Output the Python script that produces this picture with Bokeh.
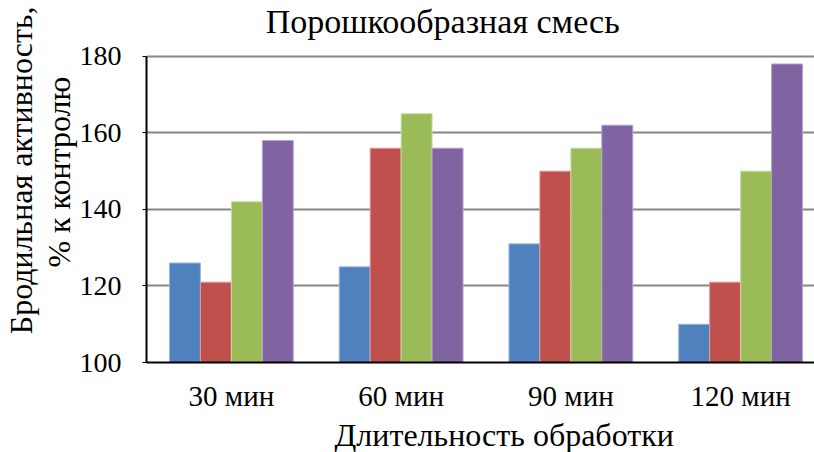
from bokeh.embed import file_html
from bokeh.models import ColumnDataSource, FixedTicker, Label, Range1d, Title
from bokeh.plotting import figure
from bokeh.resources import INLINE

# Fermentation activity of the powdered mix, % of control
durations = ["30 мин", "60 мин", "90 мин", "120 мин"]
series_1 = [126, 125, 131, 110]
series_2 = [121, 156, 150, 121]
series_3 = [142, 165, 156, 150]
series_4 = [158, 156, 162, 178]
y_ticks = [100, 120, 140, 160, 180]

series = [series_1, series_2, series_3, series_4]
fills = ["#4F81BD", "#C0504D", "#9BBB59", "#8064A2"]
edges = ["#9DB9DC", "#DE9C9A", "#C9DBA6", "#B4A5CC"]

FONT = "Liberation Serif"
bar_w = 0.1824
centers = [i + 0.5 for i in range(len(durations))]

# the frame runs up to the top edge; the space above 180 holds the heading
p = figure(
    width=814, height=452,
    x_range=Range1d(0, 669 / 170), y_range=Range1d(100, 194.59),
    min_border_left=145, min_border_right=0,
    min_border_top=0, min_border_bottom=89,
    output_backend="svg", toolbar_location=None,
)
p.outline_line_color = None
p.background_fill_color = "white"
p.border_fill_color = "white"

for k, vals in enumerate(series):
    xs = [c + (k - 1.5) * bar_w for c in centers]
    src = ColumnDataSource(dict(x=xs, top=vals))
    p.vbar(x="x", top="top", bottom=100, width=bar_w, source=src,
           fill_color=fills[k], line_color=edges[k], line_width=1)

# grid
p.xgrid.visible = False
p.ygrid.ticker = FixedTicker(ticks=y_ticks)
p.ygrid.grid_line_color = "#868686"
p.ygrid.grid_line_width = 2

# y axis
ya = p.yaxis[0]
ya.ticker = FixedTicker(ticks=y_ticks)
ya.bounds = (y_ticks[0], y_ticks[-1])
ya.axis_line_color = "black"
ya.axis_line_width = 2
ya.major_tick_line_color = "black"
ya.major_tick_out = 4
ya.major_tick_in = 0
ya.minor_tick_line_color = None
ya.major_label_text_font = FONT
ya.major_label_text_font_size = "28px"
ya.major_label_text_color = "black"
ya.major_label_standoff = 21
ya.axis_label_standoff = 0

# x axis
xa = p.xaxis[0]
xa.ticker = FixedTicker(ticks=centers)
xa.major_label_overrides = {c: d for c, d in zip(centers, durations)}
xa.axis_line_color = "black"
xa.axis_line_width = 2
xa.major_tick_line_color = None
xa.minor_tick_line_color = None
xa.major_label_text_font = FONT
xa.major_label_text_font_size = "29px"
xa.major_label_text_color = "black"
xa.major_label_standoff = 11
xa.axis_label_standoff = 0

base = dict(text_font=FONT, text_color="black", text_font_style="normal")

# axis titles
p.add_layout(Title(text="Длительность обработки", align="left", offset=188,
                   standoff=0, text_font_size="32px", **base), "below")
p.add_layout(Title(text="% к контролю", align="right", offset=76,
                   standoff=0, text_font_size="32px", **base), "left")
p.add_layout(Title(text="Бродильная активность,", align="right", offset=6,
                   standoff=0, text_font_size="32px", **base), "left")

# chart heading
p.add_layout(Label(x=1.745, y=189.0, text="Порошкообразная смесь",
                   text_font=FONT, text_font_size="34px", text_color="black",
                   text_align="center", text_baseline="alphabetic"))

open("out.html", "w").write(file_html(p, INLINE))
